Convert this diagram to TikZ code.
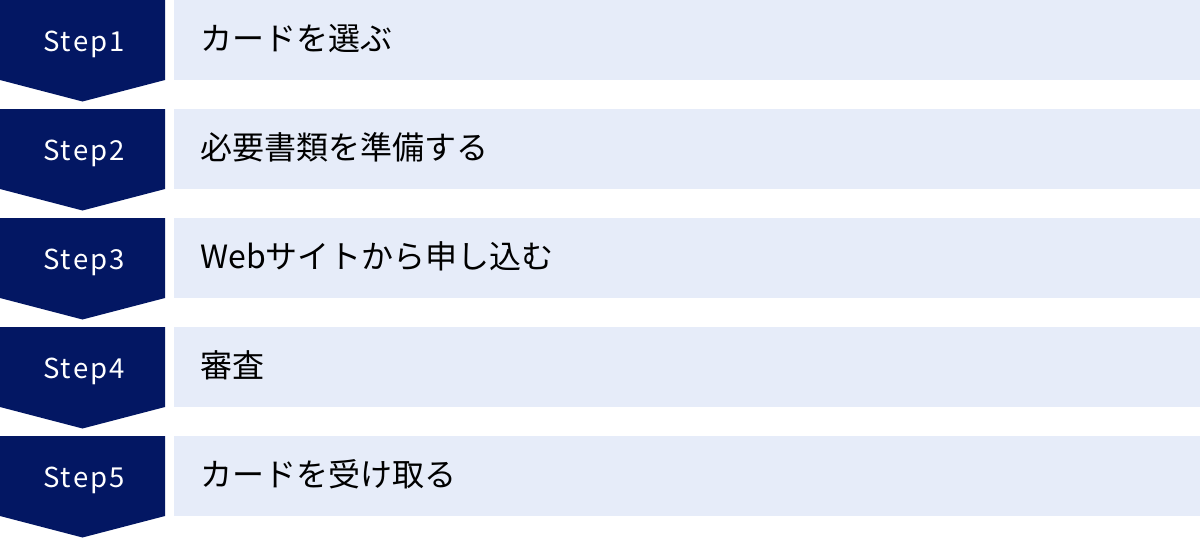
\documentclass[tikz,border=0pt]{standalone}
\usepackage{fontspec}
\setmainfont{Noto Sans CJK JP}
\newfontfamily\stepfont[LetterSpace=8]{Noto Sans CJK JP}
\definecolor{navy}{HTML}{031763}
\definecolor{pale}{HTML}{E6ECF9}
\tikzset{
  steplabel/.style={text=white,font=\stepfont\fontsize{27.5}{27.5}\selectfont,anchor=base},
  stepbg/.style={fill=pale,draw=none},
  steptext/.style={text=black,font=\fontsize{32}{32}\selectfont,anchor=base west,inner sep=0pt},
  stepshape/.style={fill=navy,draw=none}
}
\begin{document}
\begin{tikzpicture}[x=1pt,y=-1pt]
\useasboundingbox (0,0) rectangle (1200,538);
\foreach \i/\t [count=\n from 0] in {1/カードを選ぶ,2/必要書類を準備する,3/Webサイトから申し込む,4/審査,5/カードを受け取る}{
  \pgfmathsetmacro{\y}{109*\n}
  \fill[stepshape] (0,\y) -- (165,\y) -- (165,\y+80) -- (82.5,\y+101.5) -- (0,\y+80) -- cycle;
  \node[steplabel] (s\i) at (84,\y+51.5) {Step\i};
  \path[stepbg] (174,\y) rectangle (1200,\y+80);
  \node[steptext] (t\i) at (200,\y+50.5) {\t};
}
\end{tikzpicture}
\end{document}
